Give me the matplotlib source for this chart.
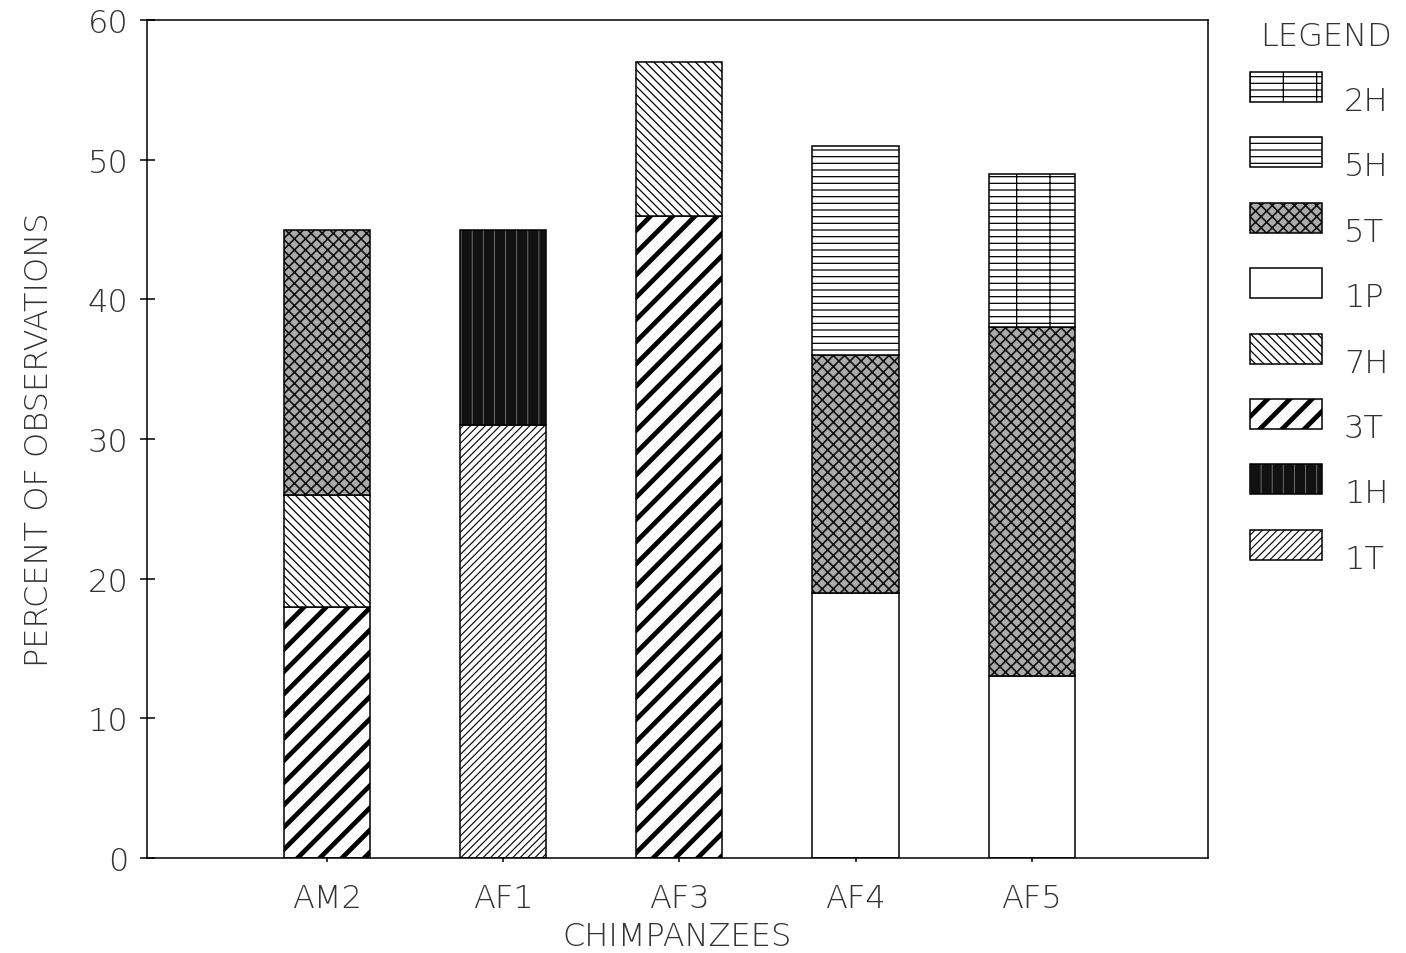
import matplotlib
matplotlib.use("Agg")
import matplotlib.pyplot as plt
from matplotlib.patches import Rectangle
import numpy as np

# --- data (percent of observations) ---
chimps = ["AM2", "AF1", "AF3", "AF4", "AF5"]
legend_order = ["2H", "5H", "5T", "1P", "7H", "3T", "1H", "1T"]

v_1T = [0, 31, 0, 0, 0]
v_1H = [0, 14, 0, 0, 0]
v_3T = [18, 0, 46, 0, 0]
v_7H = [8, 0, 11, 0, 0]
v_1P = [0, 0, 0, 19, 13]
v_5T = [19, 0, 0, 17, 25]
v_5H = [0, 0, 0, 15, 0]
v_2H = [0, 0, 0, 0, 11]

series = {"1T": v_1T, "1H": v_1H, "3T": v_3T, "7H": v_7H,
          "1P": v_1P, "5T": v_5T, "5H": v_5H, "2H": v_2H}

# fill style per category: facecolor, hatch, hatch colour, hatch linewidth
styles = {
    "2H": dict(fc="white", hatch="-----|", hc="black", hlw=0.45),
    "5H": dict(fc="white", hatch="-----", hc="black", hlw=0.45),
    "5T": dict(fc="#ababab", hatch="xxxxxx", hc="#111111", hlw=0.6),
    "1P": dict(fc="white", hatch=None, hc="black", hlw=0.4),
    "7H": dict(fc="white", hatch="\\" * 8, hc="black", hlw=0.45),
    "3T": dict(fc="white", hatch="///", hc="black", hlw=1.7),
    "1H": dict(fc="#111111", hatch="|||", hc="#707070", hlw=0.35),
    "1T": dict(fc="white", hatch="/" * 9, hc="black", hlw=0.4),
}

TXT = "#333333"
EDGE_LW = 0.55
FS = 11.5
FONT = dict(family="DejaVu Sans", weight="light", color=TXT)

plt.rcParams["font.family"] = "DejaVu Sans"
plt.rcParams["axes.linewidth"] = EDGE_LW

DPI = 200
fig = plt.figure(figsize=(1406 / DPI, 954 / DPI), dpi=DPI)
ax = fig.add_axes([147 / 1406, 95 / 954, 1061 / 1406, 838 / 954])

x = np.arange(len(chimps))
width = 0.49


def hatched_bar(ax, xs, h, bottom, st):
    with plt.rc_context({"hatch.linewidth": st["hlw"], "hatch.color": st["hc"]}):
        bars = ax.bar(xs, h, width, bottom=bottom, facecolor=st["fc"],
                      edgecolor=st["hc"], linewidth=0, hatch=st["hatch"])
    for b in bars:
        if hasattr(b, "set_hatch_linewidth"):
            b.set_hatch_linewidth(st["hlw"])
    # outline on top
    ax.bar(xs, h, width, bottom=bottom, fill=False, edgecolor="black",
           linewidth=EDGE_LW)
    return bars


bottom = np.zeros(len(chimps))
for cat in legend_order[::-1]:
    vals = np.array(series[cat], dtype=float)
    m = vals > 0
    if m.any():
        hatched_bar(ax, x[m], vals[m], bottom[m], styles[cat])
    bottom += vals

ax.set_xlim(-1.02, 5.0)
ax.set_ylim(0, 60)
ax.set_yticks(range(0, 61, 10))
ax.set_xticks(x)
ax.set_xticklabels(chimps, fontsize=FS, **FONT)
ax.set_yticklabels([str(t) for t in range(0, 61, 10)], fontsize=FS, **FONT)
ax.tick_params(axis="y", direction="inout", length=5.4, width=EDGE_LW, pad=4)
ax.tick_params(axis="x", direction="out", length=1.5, width=EDGE_LW, pad=7.5)
ax.set_xlabel("CHIMPANZEES", fontsize=FS, labelpad=3, **FONT)
ax.set_ylabel("PERCENT OF OBSERVATIONS", fontsize=FS, labelpad=12, **FONT)

# --- legend block drawn at the right, in pixel units ---
lax = fig.add_axes([1240 / 1406, 0, 166 / 1406, 1])
lax.set_xlim(1240, 1406)
lax.set_ylim(954, 0)
lax.axis("off")
lax.text(1326, 37, "LEGEND", ha="center", va="center", fontsize=FS, **FONT)
for i, cat in enumerate(legend_order):
    yc = 88 + i * 65.4
    st = styles[cat]
    with plt.rc_context({"hatch.linewidth": st["hlw"], "hatch.color": st["hc"]}):
        r = Rectangle((1250, yc - 15), 72, 30, facecolor=st["fc"],
                      edgecolor=st["hc"], linewidth=0, hatch=st["hatch"])
    if hasattr(r, "set_hatch_linewidth"):
        r.set_hatch_linewidth(st["hlw"])
    lax.add_patch(r)
    lax.add_patch(Rectangle((1250, yc - 15), 72, 30, fill=False,
                            edgecolor="black", linewidth=EDGE_LW))
    lax.text(1344, yc + 14, cat, ha="left", va="center", fontsize=FS, **FONT)

fig.savefig("out.png", dpi=DPI, facecolor="white")
